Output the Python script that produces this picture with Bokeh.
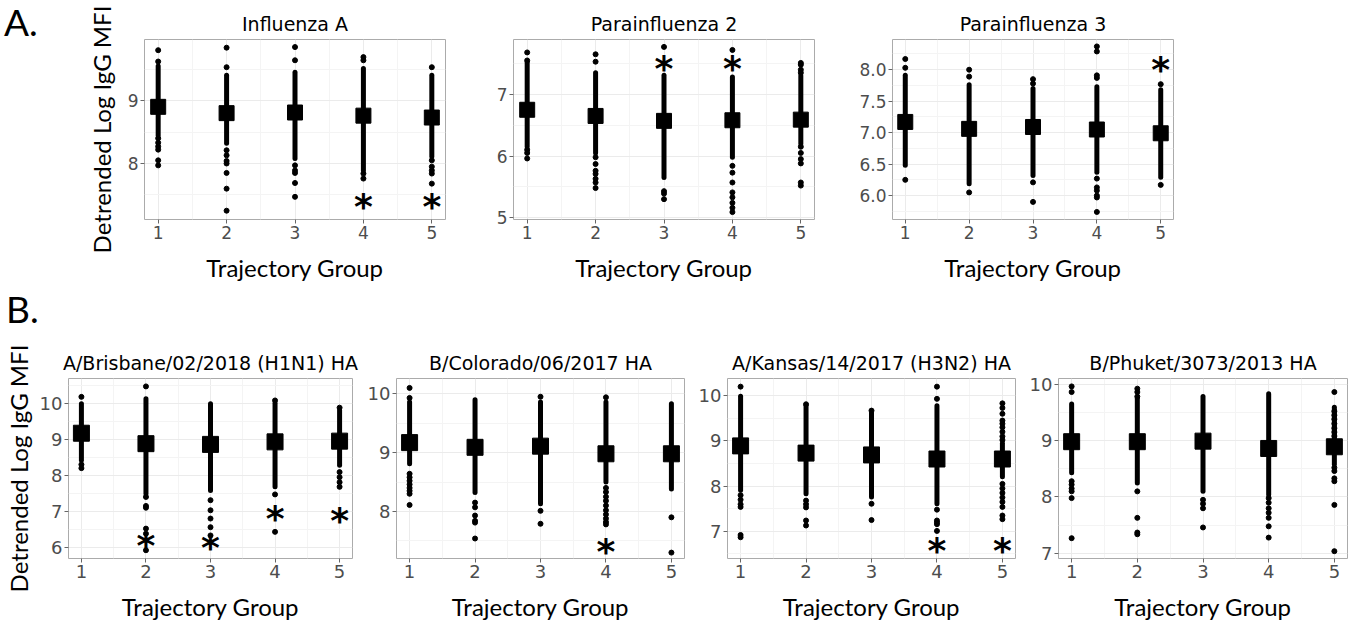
from bokeh.plotting import figure
from bokeh.layouts import column, row
from bokeh.models import Div, ColumnDataSource, FixedTicker, Range1d, NumeralTickFormatter
from bokeh.embed import file_html
from bokeh.resources import INLINE
from bokeh.core.properties import value

GROUPS = [1, 2, 3, 4, 5]
X_LABEL = "Trajectory Group"
Y_LABEL = "Detrended Log IgG MFI"

# ---------------- A. Influenza A ----------------
infa_title = "Influenza A"
infa_mean = [8.90, 8.80, 8.81, 8.76, 8.73]
infa_dense_lo = [8.45, 8.32, 8.08, 7.89, 8.11]
infa_dense_hi = [9.55, 9.40, 9.45, 9.51, 9.40]
infa_dots = [
    [9.80, 9.62, 8.40, 8.33, 8.27, 8.22, 8.05, 7.97],
    [9.84, 9.53, 8.21, 8.13, 8.04, 8.00, 7.85, 7.60, 7.25],
    [9.85, 9.64, 7.97, 7.89, 7.85, 7.69, 7.47],
    [9.69, 9.64, 7.84, 7.76],
    [9.53, 8.05, 7.95, 7.89, 7.84, 7.68],
]
infa_star_group = [4, 5]
infa_star_y = [7.39, 7.39]

# ---------------- A. Parainfluenza 2 ----------------
pi2_title = "Parainfluenza 2"
pi2_mean = [6.75, 6.65, 6.57, 6.58, 6.59]
pi2_dense_lo = [6.15, 6.05, 5.65, 5.98, 6.20]
pi2_dense_hi = [7.52, 7.35, 7.31, 7.28, 7.30]
pi2_dots = [
    [7.68, 7.55, 6.10, 6.05, 5.96],
    [7.65, 7.53, 5.98, 5.87, 5.76, 5.71, 5.63, 5.57, 5.48],
    [7.77, 5.43, 5.39, 5.30],
    [7.72, 5.84, 5.73, 5.57, 5.41, 5.33, 5.24, 5.16, 5.09],
    [7.51, 7.48, 7.40, 7.35, 6.15, 6.05, 5.95, 5.88, 5.57, 5.52],
]
pi2_star_group = [3, 4]
pi2_star_y = [7.50, 7.50]

# ---------------- A. Parainfluenza 3 ----------------
pi3_title = "Parainfluenza 3"
pi3_mean = [7.17, 7.06, 7.09, 7.05, 6.99]
pi3_dense_lo = [6.48, 6.19, 6.32, 6.37, 6.29]
pi3_dense_hi = [7.91, 7.76, 7.70, 7.73, 7.68]
pi3_dots = [
    [8.17, 8.03, 6.25],
    [8.00, 7.89, 6.05],
    [7.85, 7.78, 6.21, 5.90],
    [8.37, 8.29, 7.91, 7.87, 6.27, 6.13, 6.08, 6.00, 5.97, 5.74],
    [7.77, 6.17],
]
pi3_star_group = [5]
pi3_star_y = [8.09]

# ---------------- B. A/Brisbane/02/2018 (H1N1) HA ----------------
bris_title = "A/Brisbane/02/2018 (H1N1) HA"
bris_mean = [9.17, 8.88, 8.86, 8.93, 8.95]
bris_dense_lo = [8.42, 7.49, 7.58, 7.68, 8.28]
bris_dense_hi = [9.99, 10.13, 9.99, 10.00, 9.80]
bris_dots = [
    [10.18, 8.30, 8.20],
    [10.47, 7.40, 7.15, 7.10, 6.52, 6.38, 5.92],
    [7.31, 7.03, 6.80, 6.56, 6.33],
    [10.08, 7.47, 6.43],
    [9.88, 8.09, 7.95, 7.81, 7.68],
]
bris_star_group = [2, 3, 4, 5]
bris_star_y = [6.20, 6.13, 6.95, 6.89]

# ---------------- B. B/Colorado/06/2017 HA ----------------
colo_title = "B/Colorado/06/2017 HA"
colo_mean = [9.17, 9.09, 9.11, 8.98, 8.98]
colo_dense_lo = [8.81, 8.32, 8.13, 8.50, 8.38]
colo_dense_hi = [9.86, 9.90, 9.86, 9.86, 9.83]
colo_dots = [
    [10.10, 9.93, 8.64, 8.58, 8.52, 8.46, 8.40, 8.35, 8.30, 8.11],
    [8.15, 8.07, 7.93, 7.84, 7.81, 7.54],
    [9.95, 8.01, 7.79],
    [9.94, 8.40, 8.33, 8.25, 8.18, 8.10, 8.02, 7.95, 7.88, 7.82, 7.78],
    [7.90, 7.30],
]
colo_star_group = [4]
colo_star_y = [7.41]

# ---------------- B. A/Kansas/14/2017 (H3N2) HA ----------------
kans_title = "A/Kansas/14/2017 (H3N2) HA"
kans_mean = [8.89, 8.73, 8.69, 8.60, 8.60]
kans_dense_lo = [7.91, 7.83, 7.76, 7.61, 8.21]
kans_dense_hi = [9.99, 9.78, 9.62, 9.78, 8.95]
kans_dots = [
    [10.20, 7.80, 7.70, 7.60, 7.54, 6.92, 6.87],
    [9.81, 7.68, 7.60, 7.53, 7.24, 7.13],
    [9.67, 7.61, 7.25],
    [10.20, 9.93, 7.48, 7.24, 7.20, 7.16, 7.01],
    [9.83, 9.73, 9.60, 9.45, 9.38, 9.30, 9.20, 9.10, 9.02,
     8.05, 7.95, 7.85, 7.75, 7.65, 7.54, 7.35, 7.27],
]
kans_star_group = [4, 5]
kans_star_y = [6.68, 6.68]

# ---------------- B. B/Phuket/3073/2013 HA ----------------
phuk_title = "B/Phuket/3073/2013 HA"
phuk_mean = [8.98, 8.98, 8.99, 8.86, 8.89]
phuk_dense_lo = [8.43, 8.25, 8.10, 8.04, 8.58]
phuk_dense_hi = [9.65, 9.75, 9.78, 9.83, 9.59]
phuk_dots = [
    [9.96, 9.86, 8.28, 8.22, 8.15, 8.10, 7.98, 7.27],
    [9.92, 9.86, 9.78, 8.10, 7.63, 7.37, 7.34],
    [7.95, 7.88, 7.80, 7.46],
    [7.98, 7.90, 7.80, 7.72, 7.63, 7.48, 7.28],
    [9.86, 9.52, 9.45, 9.38, 9.30, 9.22, 9.15, 9.08, 9.00,
     8.52, 8.46, 8.33, 8.28, 7.86, 7.04],
]
phuk_star_group = []
phuk_star_y = []

X_TICKS = [1, 2, 3, 4, 5]
X_MINOR = [1.5, 2.5, 3.5, 4.5]


def make_panel(title, mean, lo, hi, dots, star_g, star_y,
               y_range, y_ticks, y_minor, width, height,
               bl, br, bt, bb, tick_fs, ylabel=False, fmt=None,
               sq=15, label_standoff=10):
    p = figure(width=width, height=height,
               x_range=Range1d(0.8, 5.2), y_range=Range1d(*y_range),
               output_backend="svg", toolbar_location=None,
               min_border_left=bl, min_border_right=br,
               min_border_top=bt, min_border_bottom=bb)
    p.background_fill_color = "white"
    p.border_fill_color = "white"
    p.outline_line_color = "#ABABAB"
    p.outline_line_width = 1

    p.title.text = title
    p.title.align = "center"
    p.title.text_font = "DejaVu Sans"
    p.title.text_font_size = "19px"
    p.title.text_font_style = "normal"
    p.title.text_color = "black"
    p.title.standoff = 9

    p.xaxis.ticker = FixedTicker(ticks=X_TICKS, minor_ticks=X_MINOR)
    p.yaxis.ticker = FixedTicker(ticks=y_ticks, minor_ticks=y_minor)
    if fmt:
        p.yaxis.formatter = NumeralTickFormatter(format=fmt)
    for ax in (p.xaxis[0], p.yaxis[0]):
        ax.axis_line_color = None
        ax.major_tick_line_color = "#666666"
        ax.major_tick_in = 0
        ax.major_tick_out = 4
        ax.minor_tick_line_color = None
        ax.major_label_text_font = "DejaVu Sans"
        ax.major_label_text_font_size = tick_fs
        ax.major_label_text_color = "#4D4D4D"
        ax.major_label_standoff = 2
        ax.axis_label_text_font = "Lato"
        ax.axis_label_text_font_size = "24px"
        ax.axis_label_text_font_style = "normal"
        ax.axis_label_text_color = "black"
    p.xaxis.axis_label = X_LABEL
    p.xaxis.axis_label_standoff = 11
    if ylabel:
        p.yaxis.axis_label = Y_LABEL
        p.yaxis.axis_label_standoff = label_standoff

    for g in (p.xgrid[0], p.ygrid[0]):
        g.grid_line_color = "#EBEBEB"
        g.grid_line_width = 1
        g.minor_grid_line_color = "#F4F4F4"
        g.minor_grid_line_width = 1

    dense = ColumnDataSource(dict(g=GROUPS, lo=lo, hi=hi))
    p.segment(x0="g", y0="lo", x1="g", y1="hi", source=dense,
              line_width=5, line_color="black", line_cap="round")
    xs, ys = [], []
    for g, vals in zip(GROUPS, dots):
        xs += [g] * len(vals)
        ys += vals
    p.scatter(xs, ys, marker="circle", size=5, color="black")
    p.scatter(GROUPS, mean, marker="square", size=sq, color="black")
    if star_g:
        p.text(x=star_g, y=star_y, text=["*"] * len(star_g),
               text_font=value("DejaVu Sans"), text_font_size="36px",
               text_font_style="bold",
               text_align="center", text_baseline="alphabetic",
               y_offset=5, text_color="black")
    return p


# Row A: frames at x 144-445, 513-814, 891-1173; y 39-219
A_H = 287
a1 = make_panel(infa_title, infa_mean, infa_dense_lo, infa_dense_hi, infa_dots,
                infa_star_group, infa_star_y, (7.11, 9.97), [8, 9], [7.5, 8.5, 9.5],
                400, A_H, 66, 33, 39, 68, "17px", ylabel=True, label_standoff=9)
a2 = make_panel(pi2_title, pi2_mean, pi2_dense_lo, pi2_dense_hi, pi2_dots,
                pi2_star_group, pi2_star_y, (4.97, 7.89), [5, 6, 7], [5.5, 6.5, 7.5],
                378, A_H, 35, 42, 39, 68, "17px")
a3 = make_panel(pi3_title, pi3_mean, pi3_dense_lo, pi3_dense_hi, pi3_dots,
                pi3_star_group, pi3_star_y, (5.62, 8.48),
                [6.0, 6.5, 7.0, 7.5, 8.0], [5.75, 6.25, 6.75, 7.25, 7.75, 8.25],
                491, A_H, 35, 174, 39, 68, "17px", fmt="0.0")

# Row B: frames at x 62-352, 396-684, 727-1015, 1058-1347; y 378-558
B_H = 287
b1 = make_panel(bris_title, bris_mean, bris_dense_lo, bris_dense_hi, bris_dots,
                bris_star_group, bris_star_y, (5.69, 10.69), [6, 7, 8, 9, 10],
                [6.5, 7.5, 8.5, 9.5, 10.5], 360, B_H, 62, 8, 40, 67, "18px",
                ylabel=True, label_standoff=4, sq=16)
b2 = make_panel(colo_title, colo_mean, colo_dense_lo, colo_dense_hi, colo_dots,
                colo_star_group, colo_star_y, (7.2, 10.26), [8, 9, 10],
                [7.5, 8.5, 9.5], 331, B_H, 36, 7, 40, 67, "18px", sq=16)
b3 = make_panel(kans_title, kans_mean, kans_dense_lo, kans_dense_hi, kans_dots,
                kans_star_group, kans_star_y, (6.4, 10.38), [7, 8, 9, 10],
                [6.5, 7.5, 8.5, 9.5], 331, B_H, 36, 7, 40, 67, "18px", sq=16)
b4 = make_panel(phuk_title, phuk_mean, phuk_dense_lo, phuk_dense_hi, phuk_dots,
                phuk_star_group, phuk_star_y, (6.91, 10.1), [7, 8, 9, 10],
                [7.5, 8.5, 9.5], 331, B_H, 36, 6, 40, 67, "18px", sq=16)

div_a = Div(text='<div style="font-family:Lato;font-size:37px;line-height:30px;'
                 'margin:7px 0 0 4px;color:black">A.</div>',
            width=78, height=A_H, margin=(0, 0, 0, 0))
div_b = Div(text='<div style="font-family:Lato;font-size:37px;line-height:30px;'
                 'margin:7px 0 0 6px;color:black">B.</div>',
            width=200, height=51, margin=(0, 0, 0, 0))

layout = column(row(div_a, a1, a2, a3), div_b, row(b1, b2, b3, b4))

with open("out.html", "w") as f:
    f.write(file_html(layout, INLINE))
